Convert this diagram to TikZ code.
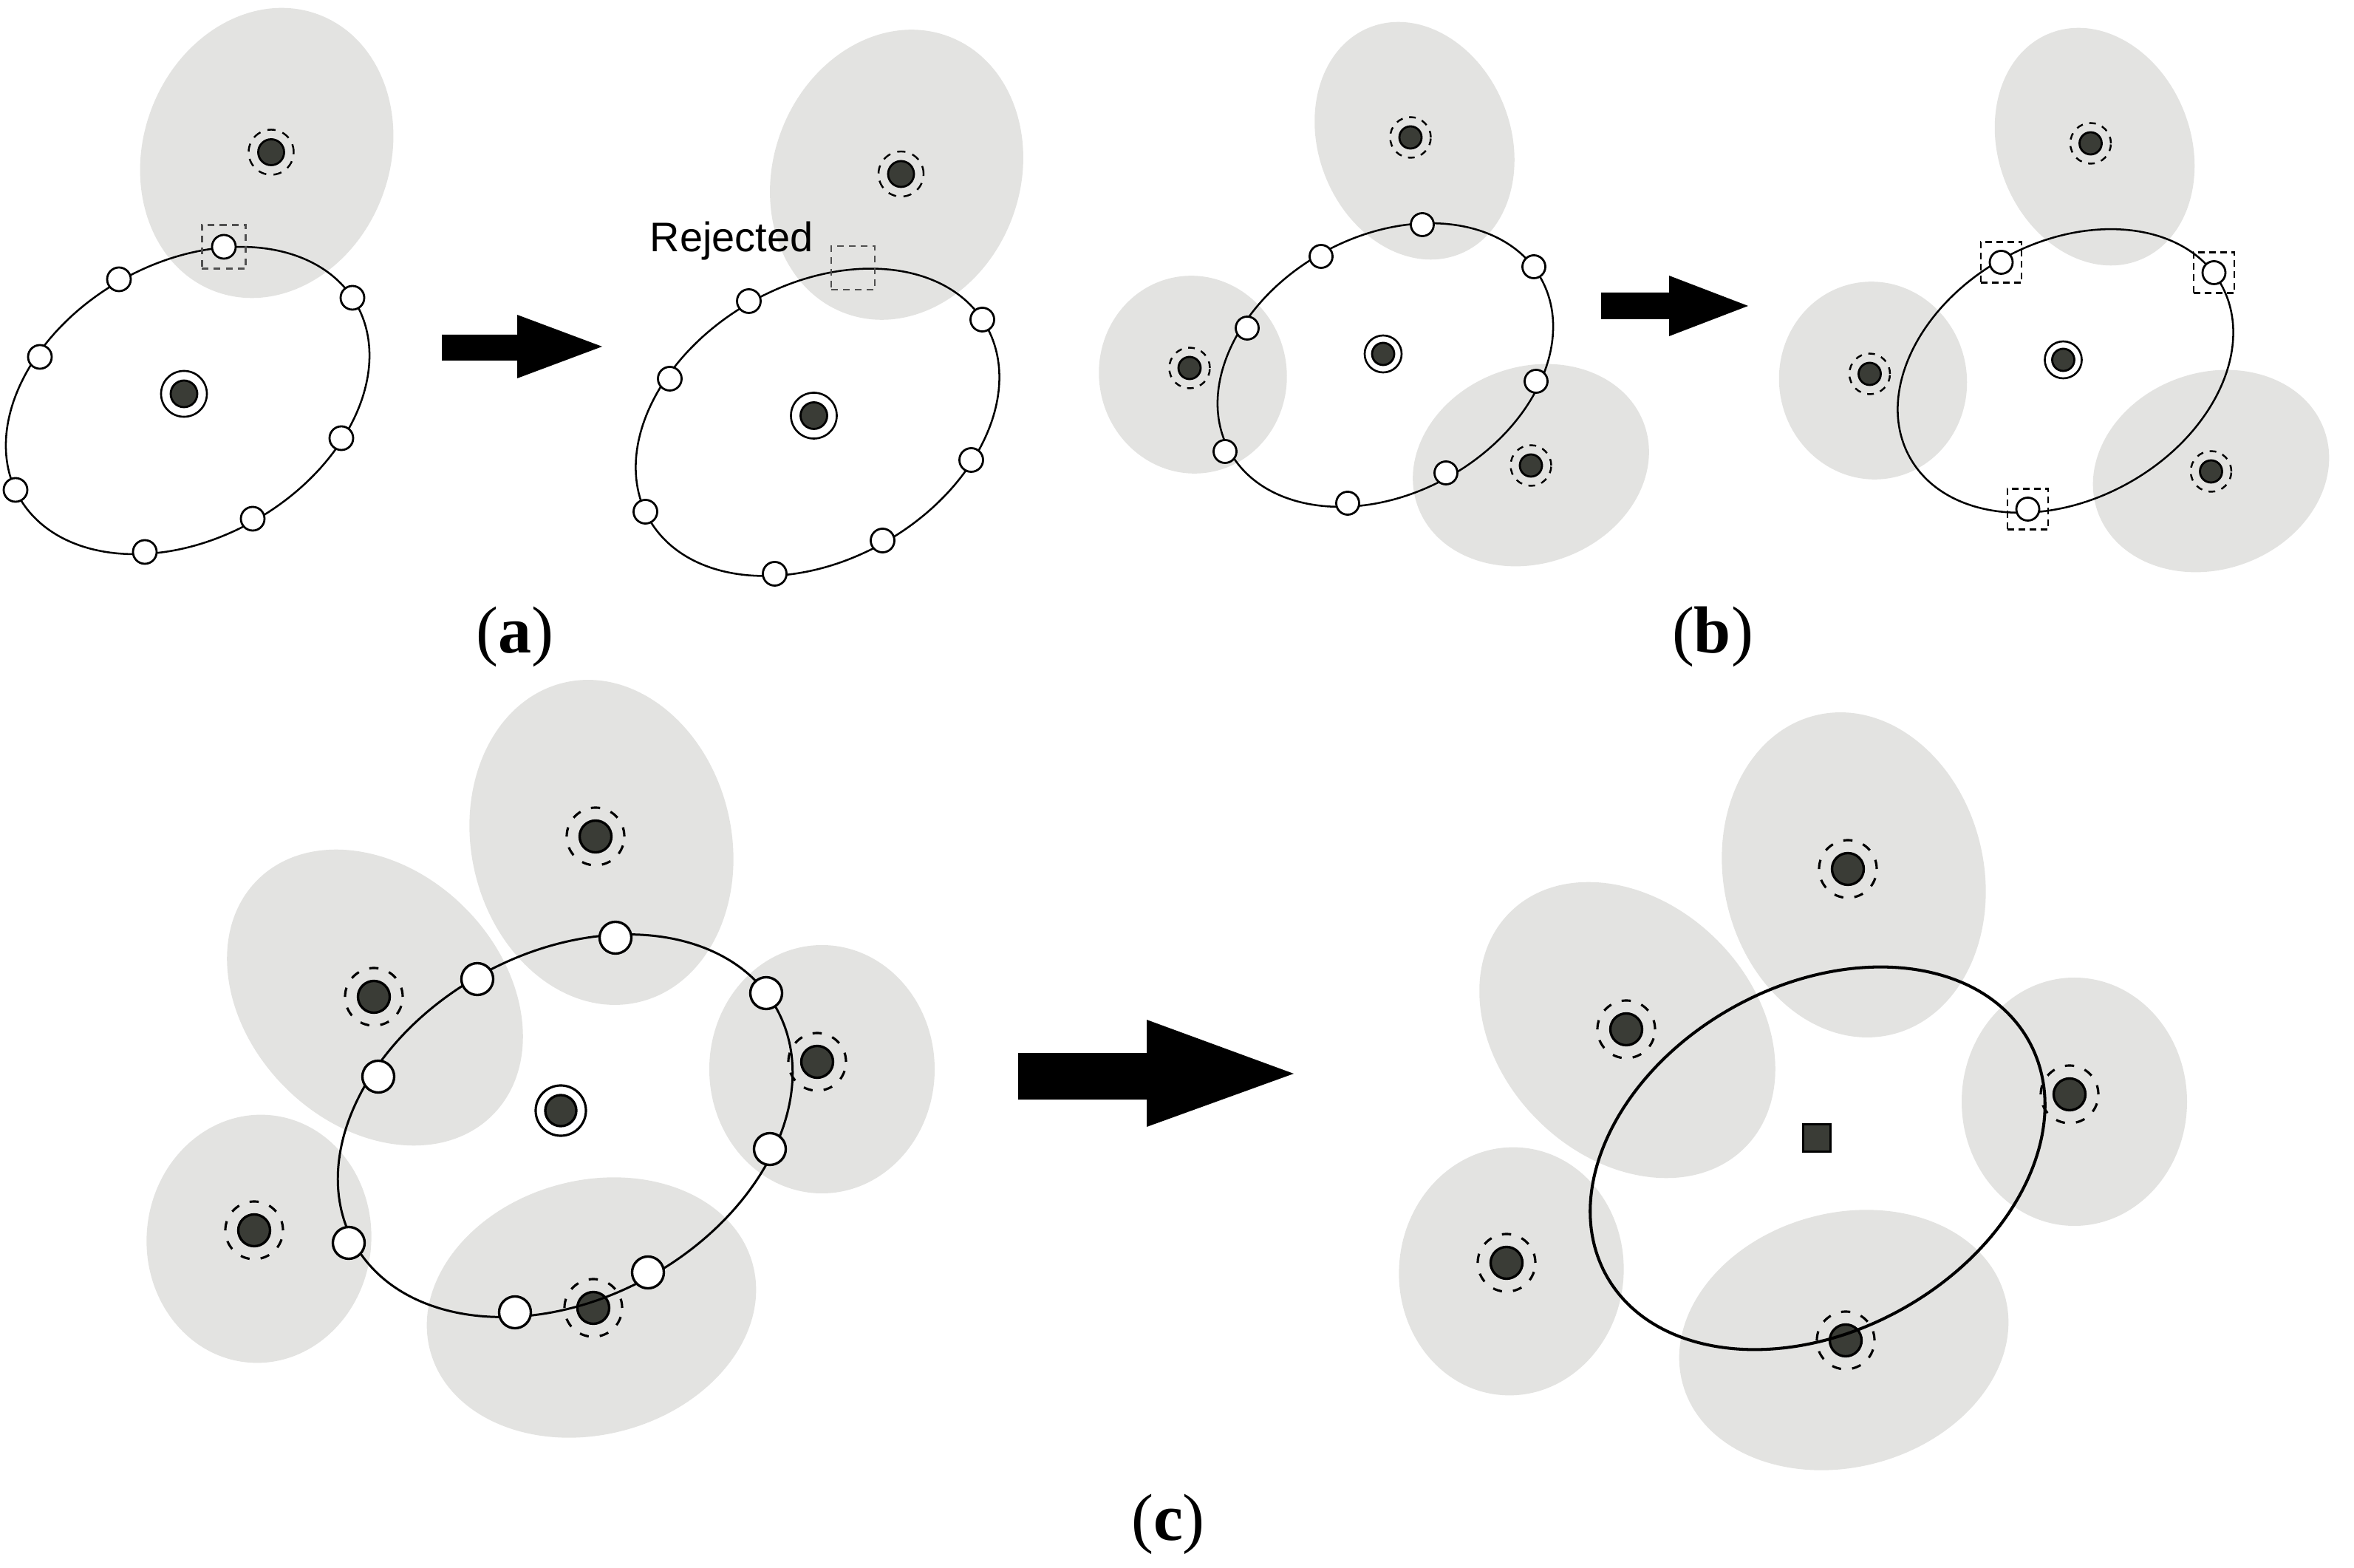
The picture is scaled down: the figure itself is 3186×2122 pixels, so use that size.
\documentclass[tikz,border=0pt]{standalone}
\usepackage{fontspec}
\setmainfont{Liberation Serif}
\newfontfamily\labsans{Liberation Sans}
\definecolor{blobgrey}{RGB}{227,227,225}
\definecolor{dotfill}{RGB}{58,60,54}
\definecolor{sqgrey}{RGB}{80,80,80}
\newcommand{\blobE}[5]{\fill[blob, rotate around={#5:(#1,#2)}] (#1,#2) ellipse [x radius=#3, y radius=#4];}
\newcommand{\orbitE}[6]{\draw[#6, rotate around={#5:(#1,#2)}] (#1,#2) ellipse [x radius=#3, y radius=#4];}
\newcommand{\panelAcommon}[1]{%
  \blobE{361}{207}{200}{167}{69.5}
  \orbitE{254}{542}{263}{186}{30}{orbitAB}
  \node[ringA] (#1r) at (367,206) {};
  \node[dotA] (#1d) at (367,206) {};
  \node[cringA] (#1cr) at (249,533) {};
  \node[dotA, minimum size=3.6mm] (#1cd) at (249,533) {};
}
\newcommand{\panelBcommon}[1]{%
  \blobE{1914.5}{190.5}{165}{130}{111.5}
  \blobE{1614.5}{507}{134}{127}{100}
  \blobE{2072}{629.5}{163}{133}{20}
  \orbitE{1875}{494}{241}{174}{29}{orbitAB}
  \foreach \k/\px/\py in {1/1909/186,2/1610/498,3/2072/630}{
    \node[ringB] (#1r\k) at (\px,\py) {};
    \node[dotB] (#1d\k) at (\px,\py) {};}
  \node[cringB] (#1cr) at (1872,479) {};
  \node[dotB] (#1cd) at (1872,479) {};
}
\newcommand{\panelCblobs}{%
  \blobE{814}{1140}{222}{176}{103}
  \blobE{507.5}{1350}{225}{172}{-45}
  \blobE{350.5}{1676.5}{168}{152}{85}
  \blobE{1112.5}{1447}{168}{152.5}{90}
  \blobE{800.5}{1769.5}{226}{172}{15}
}
\newcommand{\panelCdots}[1]{%
  \foreach \k/\px/\py in {1/806/1132,2/506/1349,3/344/1665,4/1106/1437,5/803/1770}{
    \node[ringC] (#1r\k) at (\px,\py) {};
    \node[dotC] (#1d\k) at (\px,\py) {};}
}
\begin{document}
\begin{tikzpicture}[x=0.01cm,y=-0.01cm,
  blob/.style={fill=blobgrey,draw=none},
  orbitAB/.style={draw=black,line width=0.72pt},
  orbitCL/.style={draw=black,line width=0.85pt},
  orbitCR/.style={draw=black,line width=1.15pt},
  basenode/.style={circle,inner sep=0pt,outer sep=0pt},
  wnodeA/.style={basenode,draw=black,fill=white,line width=0.8pt,minimum size=3.2mm},
  wnodeB/.style={basenode,draw=black,fill=white,line width=0.8pt,minimum size=3.1mm},
  wnodeC/.style={basenode,draw=black,fill=white,line width=0.95pt,minimum size=4.3mm},
  dotA/.style={basenode,draw=black,fill=dotfill,line width=0.8pt,minimum size=3.5mm},
  dotB/.style={basenode,draw=black,fill=dotfill,line width=0.8pt,minimum size=3.0mm},
  dotC/.style={basenode,draw=black,fill=dotfill,line width=0.95pt,minimum size=4.3mm},
  ringA/.style={basenode,draw=black,line width=0.7pt,dash pattern=on 1.1mm off 1.0mm,minimum size=6.1mm},
  ringB/.style={basenode,draw=black,line width=0.7pt,dash pattern=on 0.9mm off 0.9mm,minimum size=5.5mm},
  ringC/.style={basenode,draw=black,line width=0.9pt,dash pattern=on 1.25mm off 1.5mm,minimum size=7.8mm},
  cringA/.style={basenode,draw=black,fill=white,line width=0.75pt,minimum size=6.2mm},
  cringB/.style={basenode,draw=black,fill=white,line width=0.75pt,minimum size=5.0mm},
  cringC/.style={basenode,draw=black,fill=white,line width=0.9pt,minimum size=6.8mm},
  sqboxA/.style={rectangle,draw=sqgrey,line width=0.7pt,dash pattern=on 0.9mm off 0.7mm,inner sep=0pt,minimum size=5.9mm},
  sqboxB/.style={rectangle,draw=black,line width=0.7pt,dash pattern=on 0.9mm off 0.6mm,inner sep=0pt,minimum size=5.5mm},
  bigarrow/.style={fill=black},
  lab/.style={inner sep=0pt,font=\fontsize{25.6}{30}\selectfont}
]
\useasboundingbox (0,0) rectangle (3186,2122);

% ---------- panel (a), left ----------
\begin{scope}
  \panelAcommon{aL}
  \foreach \k/\px/\py in {1/303/334,2/161/378,3/54/483,4/21/663,5/196/747,6/342/702,7/462/593,8/477/403}
    \node[wnodeA] (aLw\k) at (\px,\py) {};
  \node[sqboxA] (aLsq) at (aLw1) {};
\end{scope}
% ---------- panel (a), right ----------
\begin{scope}[shift={(852.5,29.5)}]
  \panelAcommon{aR}
  \foreach \k/\px/\py in {2/161/378,3/54/483,4/21/663,5/196/747,6/342/702,7/462/593,8/477/403}
    \node[wnodeA] (aRw\k) at (\px,\py) {};
  \node[sqboxA] (aRsq) at (302,333) {};
\end{scope}
\node[anchor=base west,inner sep=0pt,font=\labsans\fontsize{15.9}{19}\selectfont] (rej) at (879,341) {Rejected};
\fill[bigarrow] (598,453) -- (700,453) -- (700,426) -- (815,469) -- (700,512) -- (700,488) -- (598,488) -- cycle;
\node[lab] (laba) at (697,862) {(\textbf{a})};

% ---------- panel (b), left ----------
\begin{scope}
  \panelBcommon{bL}
  \foreach \k/\px/\py in {1/1925/304,2/1788/347,3/2076/361,4/1688/444,5/2079/516,6/1658/611,7/1957/640,8/1824/681}
    \node[wnodeB] (bLw\k) at (\px,\py) {};
\end{scope}
% ---------- panel (b), right ----------
\begin{scope}[shift={(920.5,8)}]
  \panelBcommon{bR}
  \foreach \k/\px/\py in {2/1788/347,3/2076/361,8/1824/681}{
    \node[wnodeB] (bRw\k) at (\px,\py) {};
    \node[sqboxB] (bRsq\k) at (bRw\k) {};}
\end{scope}
\fill[bigarrow] (2167,396) -- (2259,396) -- (2259,373) -- (2366,414) -- (2259,455) -- (2259,432) -- (2167,432) -- cycle;
\node[lab] (labb) at (2318,862) {(\textbf{b})};

% ---------- panel (c), left ----------
\begin{scope}
  \panelCblobs
  \panelCdots{cL}
  \orbitE{765}{1523.5}{327}{234}{29}{orbitCL}
  \node[cringC] (cLcr) at (759,1503) {};
  \node[dotC, minimum size=4.2mm] (cLcd) at (759,1503) {};
  \foreach \k/\px/\py in {1/833/1269,2/646/1325,3/1037/1344,4/512/1457,5/1042/1555,6/472/1682,7/877/1722,8/697/1776}
    \node[wnodeC] (cLw\k) at (\px,\py) {};
\end{scope}
% ---------- panel (c), right ----------
\begin{scope}[shift={(1695,44)}]
  \panelCblobs
  \panelCdots{cR}
  \orbitE{765}{1523.5}{327}{234}{29}{orbitCR}
  \node[rectangle,draw=black,fill=dotfill,line width=0.9pt,inner sep=0pt,minimum size=3.7mm] (cRsq) at (764,1496) {};
\end{scope}
\fill[bigarrow] (1378,1425) -- (1552,1425) -- (1552,1380) -- (1751,1453) -- (1552,1525) -- (1552,1488) -- (1378,1488) -- cycle;
\node[lab] (labc) at (1581,2063) {(\textbf{c})};
\end{tikzpicture}
\end{document}
